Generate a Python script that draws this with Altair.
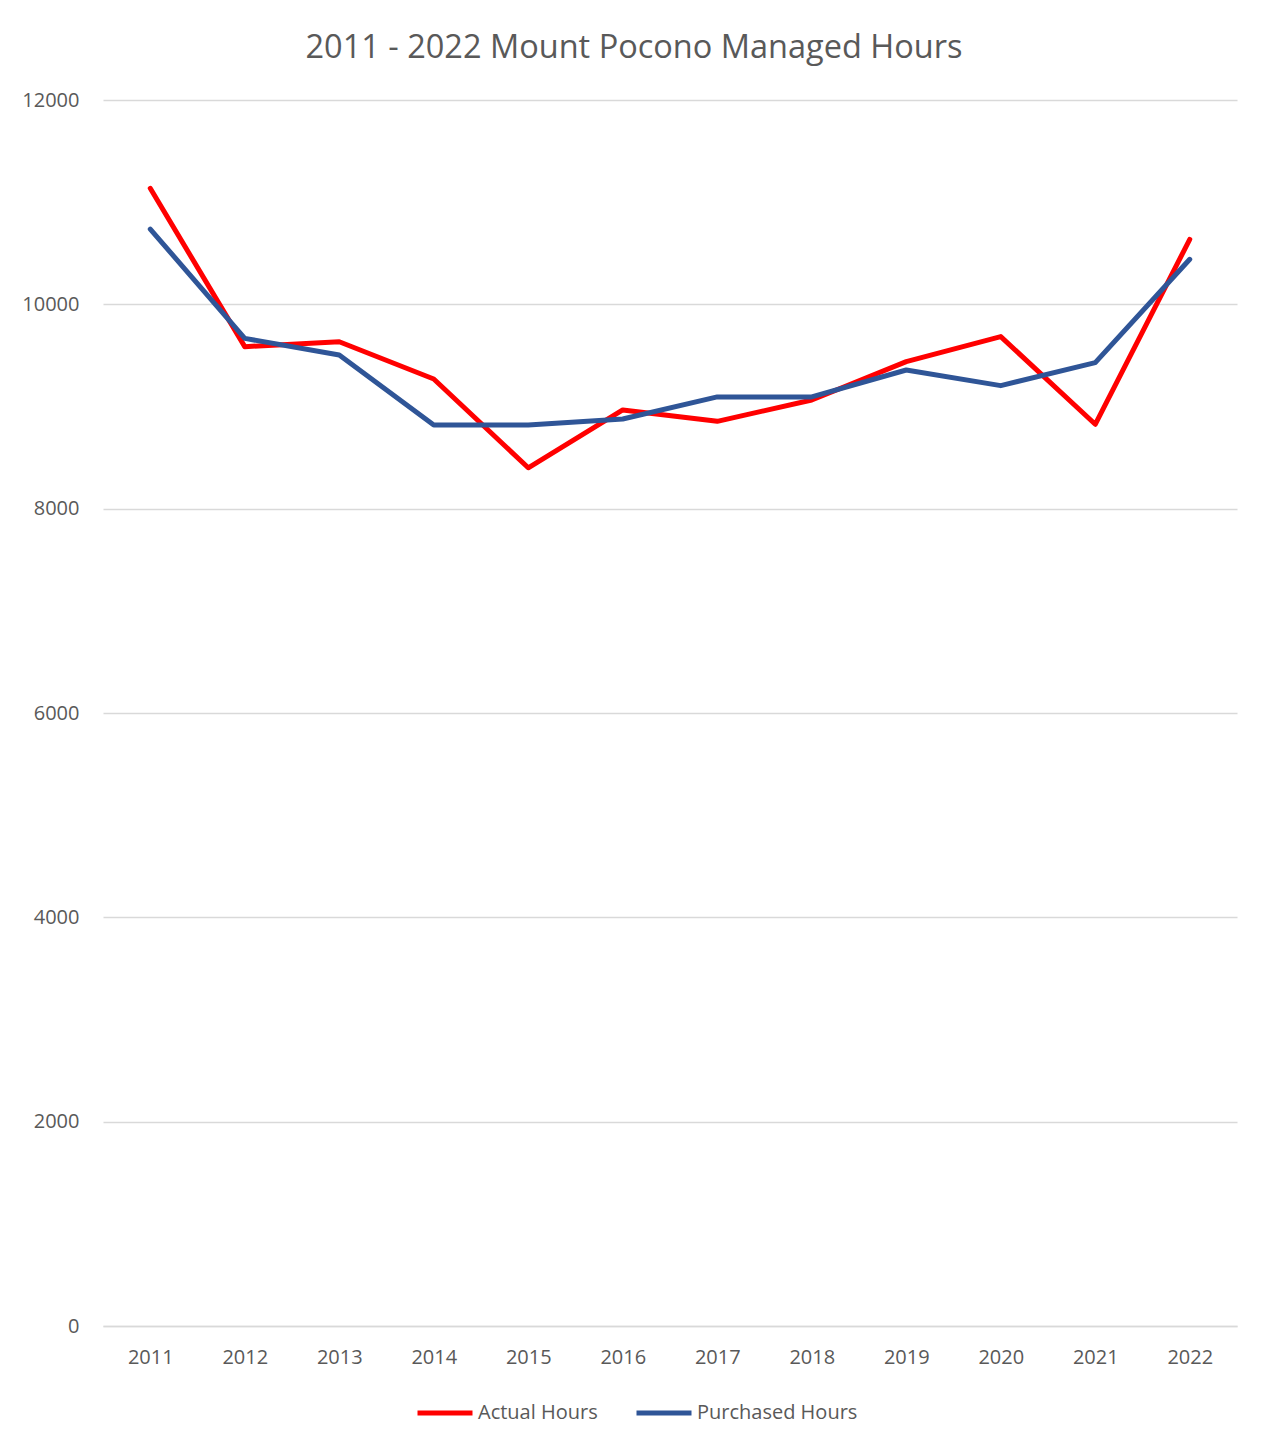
import altair as alt
import pandas as pd

years = ["2011", "2012", "2013", "2014", "2015", "2016", "2017", "2018", "2019", "2020", "2021", "2022"]
actual_hours = [11136, 9586, 9634, 9269, 8400, 8966, 8855, 9064, 9439, 9684, 8826, 10636]
purchased_hours = [10737, 9667, 9504, 8819, 8819, 8878, 9094, 9094, 9357, 9204, 9430, 10441]
series_names = ["Actual Hours", "Purchased Hours"]
series_colors = ["#FF0000", "#2F5597"]
y_ticks = [0, 2000, 4000, 6000, 8000, 10000, 12000]

rows = []
for i, yr in enumerate(years):
    rows.append({"Year": yr, "Series": series_names[0], "Hours": actual_hours[i]})
    rows.append({"Year": yr, "Series": series_names[1], "Hours": purchased_hours[i]})
df = pd.DataFrame(rows)

FONT = "Open Sans"
GREY = "#595959"

chart = alt.Chart(df).mark_line(strokeWidth=5, strokeCap="round", strokeJoin="round").encode(
    x=alt.X("Year:O", sort=years, scale=alt.Scale(padding=0.5),
            axis=alt.Axis(title=None, labelAngle=0, ticks=False, domain=True,
                          domainColor="#d9d9d9", domainWidth=1.5,
                          labelFont=FONT, labelFontSize=20, labelColor=GREY,
                          labelPadding=21, grid=False)),
    y=alt.Y("Hours:Q", scale=alt.Scale(domain=[0, 12000], nice=False),
            axis=alt.Axis(title=None, values=y_ticks, format="d", ticks=False, domain=False,
                          labelFont=FONT, labelFontSize=20, labelColor=GREY,
                          labelPadding=24, grid=True, gridColor="#d9d9d9", gridWidth=1.5)),
    color=alt.Color("Series:N", scale=alt.Scale(domain=series_names, range=series_colors),
                    legend=alt.Legend(title=None, orient="none", direction="horizontal",
                                      legendX=312, legendY=1283,
                                      symbolType="stroke", symbolSize=3025,
                                      symbolStrokeWidth=5, labelOffset=3,
                                      columnPadding=28, labelLimit=0,
                                      labelFont=FONT, labelFontSize=20, labelColor=GREY)),
).properties(
    width=1134,
    height=1226,
    title=alt.TitleParams("2011 - 2022 Mount Pocono Managed Hours", font=FONT, fontSize=32.5,
                          fontWeight="normal", color=GREY, anchor="middle", dx=-36, offset=26),
    autosize=alt.AutoSizeParams(type="none"),
    padding={"left": 95, "top": 92, "right": 21, "bottom": 115},
    background="white",
).configure_view(strokeWidth=0, stroke=None)

chart.save("out.html", embed_options={"renderer": "svg", "actions": False})
